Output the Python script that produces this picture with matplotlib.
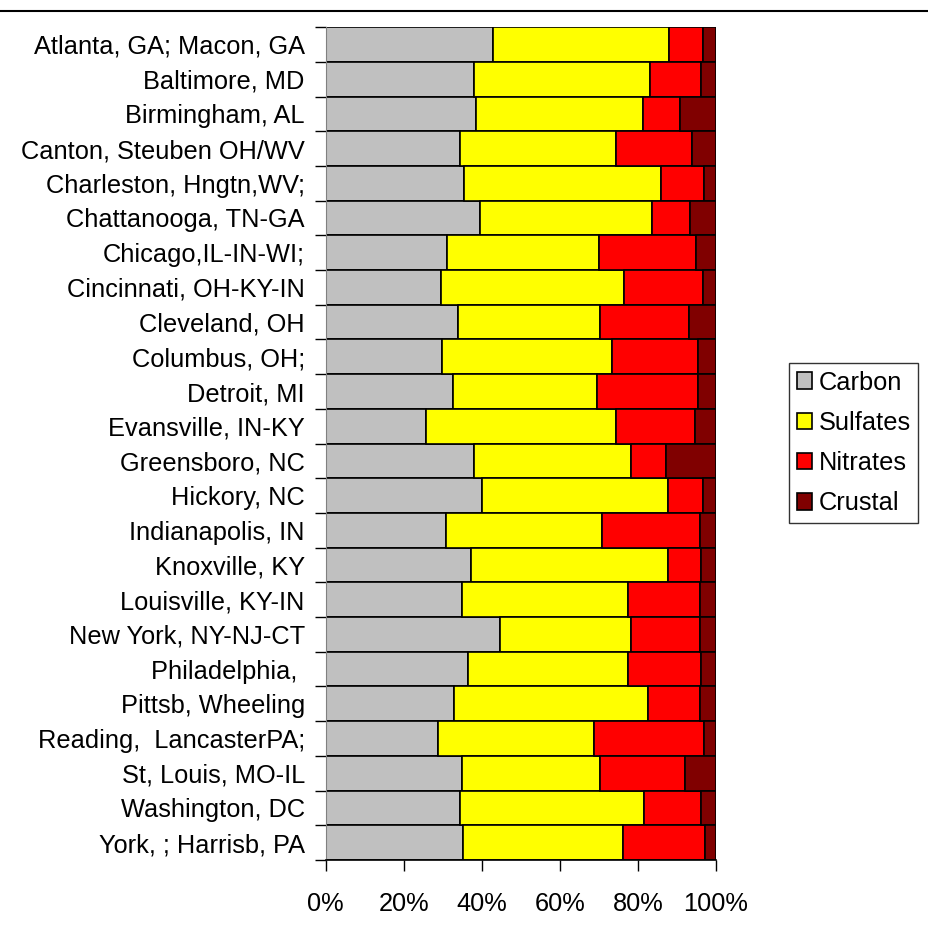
import numpy as np
import matplotlib.pyplot as plt
from matplotlib.lines import Line2D

plt.rcParams['font.family'] = ['Liberation Sans', 'DejaVu Sans']

# ------------------------------------------------------------
# Data (percent of total)
# ------------------------------------------------------------
cities = [
    "Atlanta, GA; Macon, GA", "Baltimore, MD", "Birmingham, AL",
    "Canton, Steuben OH/WV", "Charleston, Hngtn,WV;", "Chattanooga, TN-GA",
    "Chicago,IL-IN-WI;", "Cincinnati, OH-KY-IN", "Cleveland, OH",
    "Columbus, OH;", "Detroit, MI", "Evansville, IN-KY",
    "Greensboro, NC", "Hickory, NC", "Indianapolis, IN",
    "Knoxville, KY", "Louisville, KY-IN", "New York, NY-NJ-CT",
    "Philadelphia, ", "Pittsb, Wheeling", "Reading,  LancasterPA;",
    "St, Louis, MO-IL", "Washington, DC", "York, ; Harrisb, PA",
]
carbon = [42.9, 38.0, 38.4, 34.3, 35.5, 39.6, 31.1, 29.5, 34.0, 29.9, 32.7, 25.8,
          38.1, 40.1, 30.7, 37.2, 34.8, 44.7, 36.5, 32.8, 28.7, 34.8, 34.4, 35.3]
sulfates = [45.1, 45.0, 43.0, 40.1, 50.4, 43.9, 38.8, 47.0, 36.4, 43.5, 36.8, 48.7,
            40.1, 47.6, 40.2, 50.5, 42.6, 33.5, 40.9, 49.9, 40.1, 35.6, 47.1, 40.9]
nitrates = [8.6, 13.1, 9.5, 19.4, 11.0, 9.8, 25.1, 20.2, 22.6, 22.1, 26.0, 20.1,
            9.1, 8.9, 25.0, 8.5, 18.5, 17.7, 18.8, 13.2, 28.2, 21.7, 14.7, 20.9]
crustal = [3.4, 3.9, 9.1, 6.2, 3.1, 6.7, 5.0, 3.3, 7.0, 4.5, 4.5, 5.4,
           12.7, 3.4, 4.1, 3.8, 4.1, 4.1, 3.8, 4.1, 3.0, 7.9, 3.8, 2.9]

series = [("Carbon", carbon, "#C0C0C0"),
          ("Sulfates", sulfates, "#FFFF00"),
          ("Nitrates", nitrates, "#FF0000"),
          ("Crustal", crustal, "#800000")]

FS = 18.3

# ------------------------------------------------------------
# Plot
# ------------------------------------------------------------
fig = plt.figure(figsize=(9.29, 9.35), dpi=100)
ax = fig.add_axes([0.3506, 0.0802, 0.4201, 0.8908])

y = np.arange(len(cities))
left = np.zeros(len(cities))
for name, vals, col in series:
    vals = np.array(vals)
    ax.barh(y, vals, left=left, height=1.0, color=col, edgecolor='black',
            linewidth=1.2, label=name)
    left += vals

ax.set_ylim(len(cities) - 0.5, -0.5)
ax.set_xlim(0, 100)
# tick marks on category boundaries, labels centred on the bars
ax.set_yticks(np.arange(-0.5, len(cities), 1.0))
ax.set_yticklabels([])
ax.set_yticks(y, minor=True)
ax.set_yticklabels(cities, minor=True, fontsize=FS)
ax.tick_params(axis='y', which='minor', length=0, pad=15)
ax.tick_params(axis='y', which='major', length=8, width=1, direction='out')

ax.set_xticks(np.arange(0, 101, 20))
ax.set_xticklabels([f"{v}%" for v in range(0, 101, 20)], fontsize=FS)
ax.tick_params(axis='x', length=8, width=1, direction='out', pad=15)

for s in ['top', 'right']:
    ax.spines[s].set_visible(False)
ax.spines['left'].set_color('#808080')
ax.spines['bottom'].set_linewidth(1.2)

leg = fig.legend(loc='upper left', bbox_to_anchor=(789 / 929, 1 - 363 / 935),
                 fontsize=FS, frameon=True, fancybox=False, handlelength=0.62,
                 handleheight=0.62, handletextpad=0.25, borderpad=0.3,
                 labelspacing=0.64, borderaxespad=0)
leg.get_frame().set_edgecolor('black')
leg.get_frame().set_linewidth(1.0)

fig.add_artist(Line2D([0, 1], [1 - 11 / 935, 1 - 11 / 935], color='black', lw=1.5))

fig.savefig("out.png", dpi=100)
